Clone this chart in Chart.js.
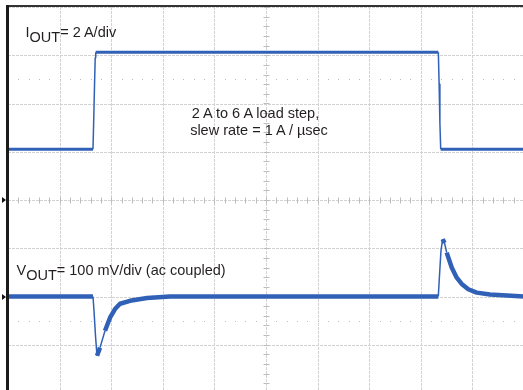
<!DOCTYPE html>
<html>
<head>
<meta charset="utf-8">
<script src="https://cdn.jsdelivr.net/npm/chart.js@4.4.1/dist/chart.umd.min.js"></script>
<style>
    html, body { margin: 0; padding: 0; background: #fff; overflow: hidden; }
    #wrap { position: absolute; left: 0; top: 0; width: 523px; height: 390px; overflow: hidden; }
    #scope { position: absolute; left: 0; top: 0; }
    .lbl {
        position: absolute;
        font-family: "Liberation Sans", Arial, sans-serif;
        font-size: 14.5px;
        color: #231f20;
        white-space: nowrap;
        line-height: 15px;
    }
    .lbl .sub { position: relative; top: 5px; }
    .center { width: 240px; text-align: center; line-height: 17px; }
</style>
</head>
<body>
<div id="wrap">
    <canvas id="scope" width="540" height="400"></canvas>
    <div class="lbl" style="left:25.5px; top:25px;">I<span class="sub">OUT</span>= 2 A/div</div>
    <div class="lbl" style="left:16.5px; top:262.5px;">V<span class="sub">OUT</span>= 100 mV/div (ac coupled)</div>
    <div class="lbl center" style="left:135.5px; top:104.5px;">2 A to 6 A load step,</div>
    <div class="lbl center" style="left:139px; top:121.5px;">slew rate = 1 A / µsec</div>
</div>
<script>
// screen is 10 x 8 divisions, y = 0 at the centre line
const xDivisions = [0, 1, 2, 3, 4, 5, 6, 7, 8, 9, 10];
const yDivisions = [-4, -3, -2, -1, 0, 1, 2, 3, 4];
const dottedRows = [2.5, -2.5];
const channelMarkers = [0, -2];

// I_OUT trace (2 A/div)
const iOutX = [0, 1.647, 1.66, 1.675, 1.69, 1.70, 8.34, 8.355, 8.37, 8.386, 10];
const iOutY = [1.05, 1.05, 1.6, 2.3, 2.95, 3.06, 3.06, 2.4, 1.6, 1.05, 1.05];

// V_OUT trace (100 mV/div, ac coupled)
const vOutX = [0, 1.647, 1.667, 1.696, 1.725, 1.783, 1.880, 1.977, 2.074, 2.171, 2.364, 2.694, 3.14,
    8.339, 8.362, 8.391, 8.424, 8.459, 8.502, 8.599, 8.696, 8.793, 8.920, 9.083, 9.341, 10];
const vOutY = [-2.0, -2.0, -2.30, -2.82, -3.23, -3.06, -2.71, -2.44, -2.26, -2.15, -2.09, -2.03, -2.0,
    -2.0, -1.57, -1.05, -0.81, -0.89, -1.09, -1.40, -1.61, -1.74, -1.85, -1.92, -1.96, -2.0];

const traceColor = '#3161b6';

function toPoints(xs, ys) {
    return xs.map((x, i) => ({ x: x, y: ys[i] }));
}

// steep edges are drawn thin, like the scope's fast transitions
function edgeWidth(thick) {
    return ctx => {
        const dx = Math.abs(ctx.p1.x - ctx.p0.x);
        const dy = Math.abs(ctx.p1.y - ctx.p0.y);
        return dy > dx * 3 ? 1.5 : thick;
    };
}

const scopeGrid = {
    id: 'scopeGrid',
    beforeDatasetsDraw(chart) {
        const { ctx, chartArea: a, scales: { x, y } } = chart;
        ctx.save();
        ctx.strokeStyle = '#d2d2d2';
        ctx.lineWidth = 1;
        ctx.setLineDash([3, 1]);
        xDivisions.forEach(v => {
            const px = Math.round(x.getPixelForValue(v)) + 0.5;
            ctx.beginPath(); ctx.moveTo(px, a.top); ctx.lineTo(px, a.bottom); ctx.stroke();
        });
        yDivisions.forEach(v => {
            const py = Math.round(y.getPixelForValue(v)) + 0.5;
            ctx.beginPath(); ctx.moveTo(a.left, py); ctx.lineTo(a.right, py); ctx.stroke();
        });
        ctx.setLineDash([]);

        // minor ticks on the centre cross
        ctx.strokeStyle = '#bdbdbd';
        const cx = Math.round(x.getPixelForValue(5)) + 0.5;
        const cy = Math.round(y.getPixelForValue(0)) + 0.5;
        for (let v = 0; v <= 10.001; v += 0.2) {
            const px = Math.round(x.getPixelForValue(v)) + 0.5;
            ctx.beginPath(); ctx.moveTo(px, cy - 3); ctx.lineTo(px, cy + 3); ctx.stroke();
        }
        for (let v = -4; v <= 4.001; v += 0.2) {
            const py = Math.round(y.getPixelForValue(v)) + 0.5;
            ctx.beginPath(); ctx.moveTo(cx - 3, py); ctx.lineTo(cx + 3, py); ctx.stroke();
        }

        // sparse dotted rows
        ctx.fillStyle = '#bdbdbd';
        dottedRows.forEach(r => {
            const py = Math.round(y.getPixelForValue(r));
            for (let v = 0.2; v < 10; v += 0.2) {
                ctx.fillRect(Math.round(x.getPixelForValue(v)), py, 1, 1);
            }
        });
        ctx.restore();
    },
    afterDatasetsDraw(chart) {
        const { ctx, chartArea: a, scales: { y } } = chart;
        ctx.save();
        ctx.fillStyle = '#333';
        ctx.fillRect(a.left - 2, a.top - 2, a.right - a.left + 2, 2);
        ctx.fillStyle = '#1a1a1a';
        ctx.fillRect(a.left - 2, a.top - 2, 3, a.bottom - a.top + 2);

        ctx.fillStyle = '#111';
        channelMarkers.forEach(m => {
            const py = Math.round(y.getPixelForValue(m));
            ctx.beginPath();
            ctx.moveTo(2, py - 3);
            ctx.lineTo(6, py);
            ctx.lineTo(2, py + 3);
            ctx.closePath();
            ctx.fill();
        });
        ctx.restore();
    }
};

new Chart(document.getElementById('scope').getContext('2d'), {
    type: 'line',
    data: {
        datasets: [
            {
                label: 'I_OUT',
                data: toPoints(iOutX, iOutY),
                borderColor: traceColor,
                borderWidth: 3,
                borderJoinStyle: 'round',
                pointRadius: 0,
                tension: 0,
                segment: { borderWidth: edgeWidth(3) }
            },
            {
                label: 'V_OUT',
                data: toPoints(vOutX, vOutY),
                borderColor: traceColor,
                borderWidth: 4.5,
                borderJoinStyle: 'round',
                pointRadius: 0,
                tension: 0,
                segment: { borderWidth: edgeWidth(4.5) }
            }
        ]
    },
    options: {
        responsive: false,
        animation: false,
        layout: { autoPadding: false, padding: { left: 8, top: 7, right: 16, bottom: 7 } },
        plugins: {
            legend: { display: false },
            tooltip: { enabled: false }
        },
        scales: {
            x: { type: 'linear', min: 0, max: 10, display: false },
            y: { type: 'linear', min: -4, max: 4, display: false }
        }
    },
    plugins: [scopeGrid]
});
</script>
</body>
</html>
